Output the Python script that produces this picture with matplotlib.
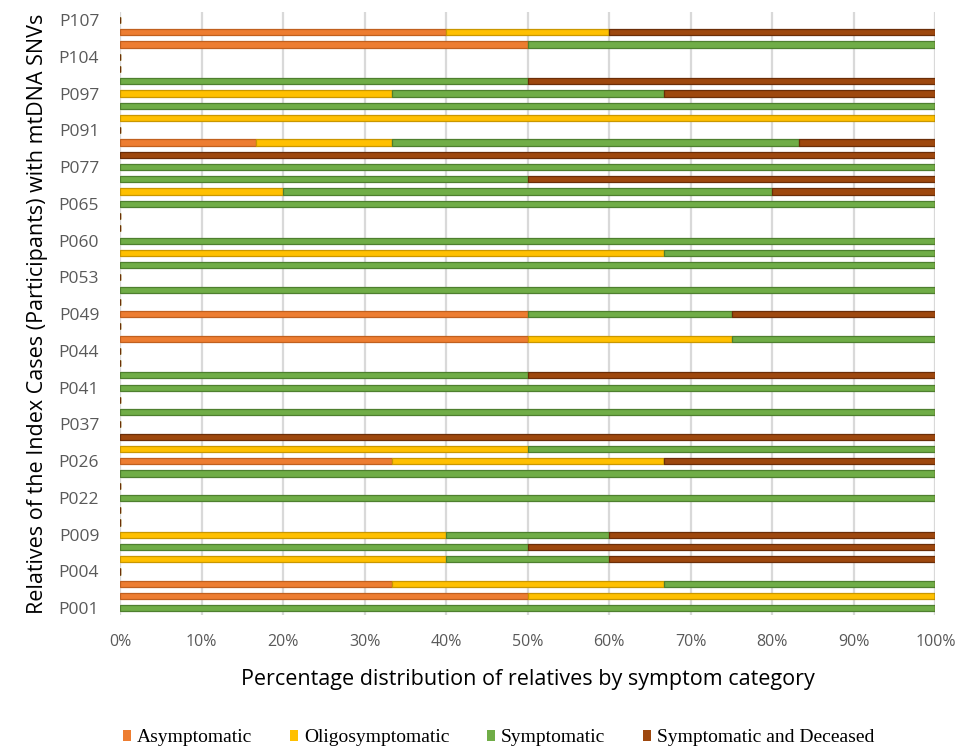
import numpy as np
import matplotlib
matplotlib.use("Agg")
import matplotlib.pyplot as plt
from matplotlib.patches import Patch


# 49 rows, top to bottom; only every third row carries a visible label
tick_labels = ["P107", "P104", "P097", "P091", "P077", "P065", "P060", "P053", "P049",
               "P044", "P041", "P037", "P026", "P022", "P009", "P004", "P001"]

# relatives per symptom category for each row (top -> bottom)
asymptomatic = [0, 2, 1, 0, 0, 0, 0, 0, 0, 0, 1, 0, 0, 0, 0, 0, 0, 0, 0, 0, 0, 0, 0, 0, 2,
                0, 2, 0, 0, 0, 0, 0, 0, 0, 0, 0, 1, 0, 0, 0, 0, 0, 0, 0, 0, 0, 1, 1, 0]
oligosymptomatic = [0, 1, 0, 0, 0, 0, 1, 0, 1, 0, 1, 0, 0, 0, 1, 0, 0, 0, 0, 2, 0, 0, 0, 0, 0,
                    0, 1, 0, 0, 0, 0, 0, 0, 0, 0, 1, 1, 0, 0, 0, 0, 0, 2, 0, 2, 0, 1, 1, 0]
symptomatic = [0, 0, 1, 0, 0, 1, 1, 1, 0, 0, 3, 0, 1, 1, 3, 1, 0, 0, 1, 1, 1, 0, 1, 0, 1,
               0, 1, 0, 0, 1, 1, 0, 1, 0, 0, 1, 0, 1, 0, 1, 0, 0, 1, 1, 1, 0, 1, 0, 1]
deceased = [0, 2, 0, 0, 0, 1, 1, 0, 0, 0, 1, 1, 0, 1, 1, 0, 0, 0, 0, 0, 0, 0, 0, 0, 1,
            0, 0, 0, 0, 1, 0, 0, 0, 0, 1, 0, 1, 0, 0, 0, 0, 0, 2, 1, 2, 0, 0, 0, 0]

series_names = ["Asymptomatic", "Oligosymptomatic", "Symptomatic", "Symptomatic and Deceased"]
colors = ["#ED7D31", "#FFC000", "#70AD47", "#9E480E"]
edges = ["#C0601F", "#C99700", "#4E7F2F", "#6B2E08"]


def main():
    counts = np.array([asymptomatic, oligosymptomatic, symptomatic, deceased], dtype=float)
    totals = counts.sum(axis=0)
    pct = np.divide(counts * 100.0, totals, out=np.zeros_like(counts), where=totals > 0)
    n = counts.shape[1]
    ypos = np.arange(n)

    fig = plt.figure(figsize=(9.57, 7.5), dpi=100)
    ax = fig.add_axes([0.1254, 0.18, 0.852, 0.804])

    left = np.zeros(n)
    for vals, name, c, ec in zip(pct, series_names, colors, edges):
        ax.barh(ypos, vals, left=left, height=0.5, color=c, edgecolor=ec,
                linewidth=0.9, label=name, zorder=3)
        left += vals

    ax.set_xlim(0, 100)
    ax.set_ylim(n - 0.45, -0.65)
    ax.set_xticks(np.arange(0, 101, 10))
    ax.set_xticklabels([f"{v}%" for v in range(0, 101, 10)],
                       family="Open Sans", fontsize=11.5, color="#595959")
    ax.set_yticks(ypos[::3])
    ax.set_yticklabels(tick_labels, family="Open Sans", fontsize=12.5, color="#595959")
    ax.tick_params(axis="both", length=0)
    ax.tick_params(axis="y", pad=15)
    ax.tick_params(axis="x", pad=14)
    ax.grid(axis="x", color="#D9D9D9", linewidth=1.6, zorder=0)
    ax.set_axisbelow(True)
    for s in ax.spines.values():
        s.set_visible(False)

    ax.set_xlabel("Percentage distribution of relatives by symptom category",
                  family="Open Sans", fontsize=15.5, labelpad=13)
    ax.set_ylabel("Relatives of the Index Cases (Participants) with mtDNA SNVs",
                  family="Open Sans", fontsize=15.5, labelpad=8)

    handles = [Patch(facecolor=c, edgecolor="none") for c in colors]
    fig.legend(handles, series_names, loc="center", bbox_to_anchor=(0.521, 0.016),
               ncol=4, frameon=False, prop={"family": "Liberation Serif", "size": 14},
               handlelength=0.45, handleheight=0.45, handletextpad=0.3, columnspacing=1.9)

    fig.savefig("out.png", dpi=100)
    plt.close(fig)


if __name__ == "__main__":
    main()
